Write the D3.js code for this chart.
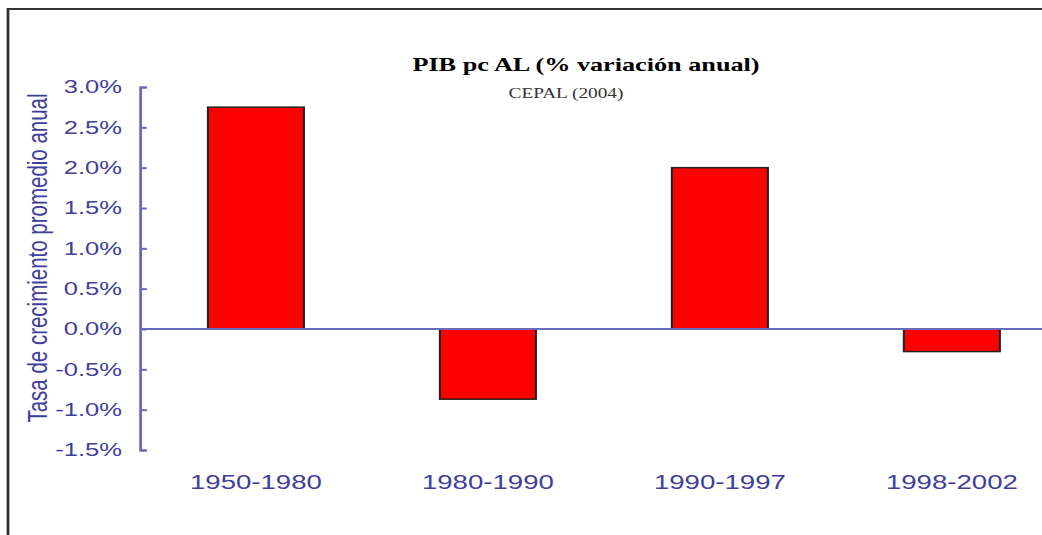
<body style="margin:0;background:#fff">
<div id="chart"></div>
<script src="https://cdn.jsdelivr.net/npm/d3@7"></script>
<script>
    // data
    const periods = ["1950-1980", "1980-1990", "1990-1997", "1998-2002"];
    const growth = [2.75, -0.87, 2.0, -0.28];
    const yTicks = [-1.5, -1.0, -0.5, 0.0, 0.5, 1.0, 1.5, 2.0, 2.5, 3.0];

    const fullWidth = 1042, fullHeight = 535;
    // the original image is stretched sideways, so draw narrow and scale up
    const sx = 1.38;
    const W = fullWidth / sx;
    const axisX = 101.4;
    const step = 168.1;

    const textColor = "#40409c";
    const axisColor = "#6a6ab8";
    const sans = "'Liberation Sans', Arial, sans-serif";
    const serif = "'Liberation Serif', 'Times New Roman', serif";

    const svg = d3.select("#chart")
        .append("svg")
        .attr("width", fullWidth)
        .attr("height", fullHeight);

    const g = svg.append("g")
        .attr("transform", `scale(${sx},1)`);

    // frame (left and top edges only)
    g.append("path")
        .attr("d", `M5.8,${fullHeight} L5.8,9 L${W},9`)
        .attr("fill", "none")
        .attr("stroke", "#333")
        .attr("stroke-width", 2);

    const y = d3.scaleLinear()
        .domain([-1.5, 3.0])
        .range([450, 87]);

    const x = d3.scaleBand()
        .domain(periods)
        .range([axisX, axisX + step * periods.length])
        .paddingInner(0.586)
        .paddingOuter(0.293);

    const bars = periods.map((p, i) => ({ period: p, value: growth[i] }));

    g.selectAll("rect.bar")
        .data(bars)
        .enter()
        .append("rect")
        .attr("class", "bar")
        .attr("x", d => x(d.period))
        .attr("y", d => y(Math.max(0, d.value)))
        .attr("width", x.bandwidth())
        .attr("height", d => Math.abs(y(d.value) - y(0)))
        .attr("fill", "#ff0000")
        .attr("stroke", "#222")
        .attr("stroke-width", 1.5);

    // zero line
    g.append("line")
        .attr("x1", axisX)
        .attr("x2", W)
        .attr("y1", y(0))
        .attr("y2", y(0))
        .attr("stroke", axisColor)
        .attr("stroke-width", 2);

    const yAxis = d3.axisLeft(y)
        .tickValues(yTicks)
        .tickSize(-5)
        .tickSizeOuter(-5)
        .tickPadding(13)
        .tickFormat(d => d.toFixed(1) + "%");

    const yG = g.append("g")
        .attr("transform", `translate(${axisX},0)`)
        .call(yAxis);
    yG.selectAll("path, line")
        .attr("stroke", axisColor)
        .attr("stroke-width", 2);
    yG.selectAll("text")
        .attr("fill", textColor)
        .style("font-family", sans)
        .style("font-size", "18.5px");

    const xAxis = d3.axisBottom(x).tickSize(0);
    const xG = g.append("g")
        .attr("transform", "translate(0,450)")
        .call(xAxis);
    xG.select(".domain").remove();
    xG.selectAll("text")
        .attr("dy", null)
        .attr("y", 39)
        .attr("fill", textColor)
        .style("font-family", sans)
        .style("font-size", "20px");

    // axis title
    g.append("text")
        .attr("transform", `translate(34,258) rotate(-90)`)
        .attr("text-anchor", "middle")
        .attr("fill", textColor)
        .style("font-family", sans)
        .style("font-size", "20.5px")
        .text("Tasa de crecimiento promedio anual");

    g.append("text")
        .attr("x", 586 / sx)
        .attr("y", 71)
        .attr("text-anchor", "middle")
        .attr("fill", "#000")
        .style("font-family", serif)
        .style("font-weight", "bold")
        .style("font-size", "19px")
        .text("PIB pc AL (% variación anual)");

    g.append("text")
        .attr("x", 566 / sx)
        .attr("y", 98)
        .attr("text-anchor", "middle")
        .attr("fill", "#333")
        .style("font-family", serif)
        .style("font-size", "14px")
        .text("CEPAL (2004)");
</script>
</body>
